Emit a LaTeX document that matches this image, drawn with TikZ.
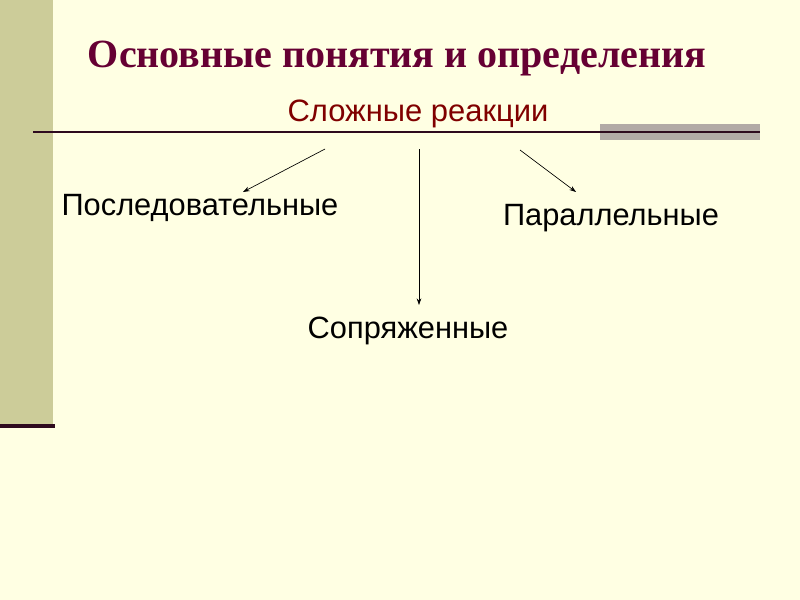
\documentclass[tikz,border=0pt]{standalone}
\usepackage{fontspec}
\setmainfont{Liberation Serif}
\setsansfont{Liberation Sans}
\usetikzlibrary{arrows.meta}
\definecolor{bg}{HTML}{FFFFE3}
\definecolor{bar}{HTML}{CCCC99}
\definecolor{ttl}{HTML}{660033}
\definecolor{sub}{HTML}{800000}
\definecolor{rule}{HTML}{2E0A1E}
\definecolor{grayrect}{HTML}{B2AAA6}
\tikzset{
  lbl/.style={font=\sffamily\fontsize{23.1}{27}\selectfont, text=black, inner sep=0pt, anchor=base},
  conn/.style={draw=black, line width=0.5pt, -{Stealth[length=5pt,width=3.5pt]}}
}
\begin{document}
\begin{tikzpicture}[x=0.75pt,y=-0.75pt]
\useasboundingbox (0,0) rectangle (800,600);
\fill[bg] (0,0) rectangle (800,600);
\fill[bar] (0,0) rectangle (53,426);
\fill[rule] (0,424) rectangle (55,428);
\fill[grayrect] (600,124) rectangle (760,140);
\draw[rule, line width=1.5pt] (33,132) -- (760,132);
\node[font=\rmfamily\bfseries\fontsize{30}{36}\selectfont, text=ttl, inner sep=0pt, anchor=base] (title) at (397,67) {Основные понятия и определения};
\node[font=\sffamily\fontsize{23.2}{28}\selectfont, text=sub, inner sep=0pt, anchor=base] (subtitle) at (418,121) {Сложные реакции};
\coordinate (l0) at (325,149);
\coordinate (m0) at (419,149);
\coordinate (r0) at (520,150);
\node[lbl] (posl) at (200,215) {Последовательные};
\node[lbl] (par) at (611,225) {Параллельные};
\node[lbl] (sopr) at (408,338) {Сопряженные};
\coordinate (l1) at (243,192);
\coordinate (m1) at (419,305);
\coordinate (r1) at (576,192);
\draw[conn] (l0) -- (l1);
\draw[conn] (m0) -- (m1);
\draw[conn] (r0) -- (r1);
\end{tikzpicture}
\end{document}
